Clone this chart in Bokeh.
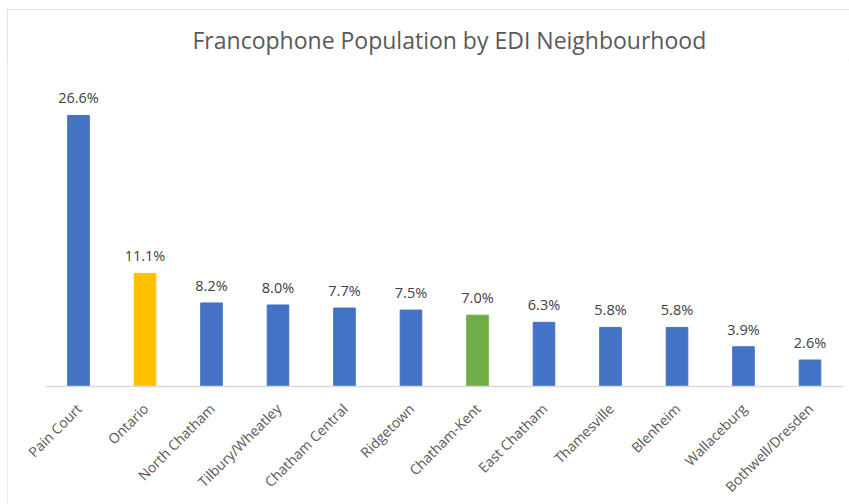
from bokeh.plotting import figure
from bokeh.models import ColumnDataSource, LabelSet, Range1d
from bokeh.core.properties import value
from bokeh.embed import file_html
from bokeh.resources import INLINE
import math

categories = ["Pain Court", "Ontario", "North Chatham", "Tilbury/Wheatley",
              "Chatham Central", "Ridgetown", "Chatham-Kent", "East Chatham",
              "Thamesville", "Blenheim", "Wallaceburg", "Bothwell/Dresden"]
values = [26.6, 11.1, 8.2, 8.0, 7.7, 7.5, 7.0, 6.3, 5.8, 5.8, 3.9, 2.6]
colors = ["#4472C4", "#FFC000", "#4472C4", "#4472C4", "#4472C4", "#4472C4",
          "#70AD47", "#4472C4", "#4472C4", "#4472C4", "#4472C4", "#4472C4"]
labels = [f"{v:.1f}%" for v in values]

n = len(categories)
idx = list(range(n))
source = ColumnDataSource(dict(x=idx, cat=categories, val=values, color=colors,
                               label=labels, zero=[0] * n))

FONT = "Open Sans"
PX_PER_UNIT = 10.19     # pixels per percentage point
PX_PER_CAT = 66.5       # pixels per category slot
FIG_W, FIG_H = 842, 495
FRAME_TOP = 51          # px from figure top to frame top
BASE_FROM_TOP = 377     # baseline (0%) in figure px
FIRST_CENTER = 71       # first bar center in figure px

x_start = -FIRST_CENTER / PX_PER_CAT
x_end = x_start + FIG_W / PX_PER_CAT
y_end = (BASE_FROM_TOP - FRAME_TOP) / PX_PER_UNIT
y_start = -(FIG_H - BASE_FROM_TOP) / PX_PER_UNIT

p = figure(width=FIG_W, height=FIG_H, output_backend="svg", toolbar_location=None,
           x_range=Range1d(x_start, x_end), y_range=Range1d(y_start, y_end),
           min_border_left=0, min_border_right=0, min_border_top=FRAME_TOP,
           min_border_bottom=0,
           title="Francophone Population by EDI Neighbourhood")
p.margin = (9, 0, 0, 7)

p.title.align = "left"
p.title.offset = 185
p.title.text_font = FONT
p.title.text_font_size = "23px"
p.title.text_font_style = "normal"
p.title.text_color = "#595959"

p.vbar(x="x", top="val", width=0.325, color="color", source=source)

# category baseline spanning all category slots
p.segment(x0=[-0.5], y0=[0], x1=[n - 0.5], y1=[0], line_color="#d9d9d9", line_width=1.5)

lab = LabelSet(x="x", y="val", text="label", source=source, text_align="center",
               text_baseline="alphabetic", y_offset=12, text_font=value(FONT),
               text_font_size="14.5px", text_color="#404040")
p.add_layout(lab)

xlab = LabelSet(x="x", y="zero", text="cat", source=source, text_align="right",
                text_baseline="middle", angle=math.pi / 4, x_offset=0.5, y_offset=-19.5,
                text_font=value(FONT), text_font_size="14px", text_color="#595959")
p.add_layout(xlab)

p.xaxis.visible = False
p.yaxis.visible = False
p.xgrid.grid_line_color = None
p.ygrid.grid_line_color = None
p.outline_line_color = None

p.styles = {"outline": "2px solid #d9d9d9", "outline-offset": "-2px"}

open("out.html", "w").write(file_html(p, INLINE))
